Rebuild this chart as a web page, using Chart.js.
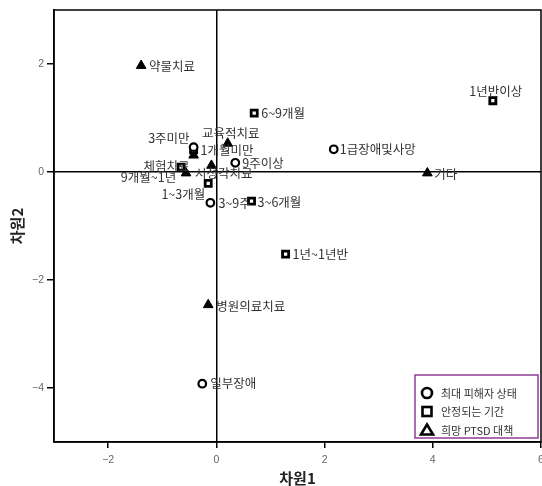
<!DOCTYPE html>
<html><head><meta charset="utf-8">
<script src="https://cdn.jsdelivr.net/npm/chart.js@4/dist/chart.umd.min.js"></script>
<style>html,body{margin:0;padding:0;background:#fff}#wrap{width:542px;height:486px}</style>
</head><body><div id="wrap"><canvas id="c" width="542" height="486"></canvas></div>
<script>
// ---- data ----
const seriesNames = ['최대 피해자 상태', '안정되는 기간', '희망 PTSD 대책'];

const circleLabels = ['3주미만', '3~9주', '9주이상', '1급장애및사망', '일부장애'];
const circleX = [-0.42, -0.11, 0.35, 2.17, -0.26];
const circleY = [0.46, -0.57, 0.17, 0.42, -3.92];

const squareLabels = ['1개월미만', '1~3개월', '3~6개월', '6~9개월', '9개월~1년', '1년~1년반', '1년반이상'];
const squareX = [-0.42, -0.15, 0.65, 0.70, -0.65, 1.28, 5.11];
const squareY = [0.41, -0.21, -0.54, 1.09, 0.09, -1.52, 1.32];

const triLabels = ['약물치료', '교육적치료', '체험치료', '', '시청각치료', '병원의료치료', '기타'];
const triX = [-1.39, 0.21, -0.42, -0.09, -0.56, -0.15, 3.90];
const triY = [1.97, 0.53, 0.31, 0.12, -0.02, -2.46, -0.02];

const xTicks = [-2, 0, 2, 4, 6];
const yTicks = [-4, -2, 0, 2];
const xTitle = '차원1';
const yTitle = '차원2';

// ---- label layout (pixel offsets from marker, alignment) ----
const circleLabelPos = [[-4, -9, 'right'], [8, 0, 'left'], [7, 0, 'left'], [6, 0, 'left'], [8, 0, 'left']];
const squareLabelPos = [[7, 0, 'left'], [-3, 11, 'right'], [6, 1, 'left'], [7, 0, 'left'], [-5, 10, 'right'], [7, 0, 'left'], [3, -9, 'center']];
const triLabelPos = [[8, 1, 'left'], [3, -10, 'center'], [-4, 11, 'right'], [7, 0, 'left'], [9, 0, 'left'], [8, 1, 'left'], [7, 1, 'left']];

function pts(xs, ys) { return xs.map((x, i) => ({x: x, y: ys[i]})); }

const labelSets = [
  {labels: circleLabels, pos: circleLabelPos},
  {labels: squareLabels, pos: squareLabelPos},
  {labels: triLabels, pos: triLabelPos}
];

const labelPlugin = {
  id: 'pointLabels',
  afterDatasetsDraw(chart) {
    const ctx = chart.ctx;
    ctx.save();
    ctx.font = '12.5px "Noto Sans CJK KR", "Noto Sans", sans-serif';
    ctx.fillStyle = '#333';
    ctx.textBaseline = 'middle';
    chart.data.datasets.forEach((ds, di) => {
      const meta = chart.getDatasetMeta(di);
      const set = labelSets[di];
      meta.data.forEach((el, i) => {
        const txt = set.labels[i];
        if (!txt) return;
        const p = set.pos[i];
        ctx.textAlign = p[2];
        ctx.fillText(txt, el.x + p[0], el.y + p[1]);
      });
    });
    ctx.restore();
  },
  afterDraw(chart) {
    const ctx = chart.ctx;
    const a = chart.chartArea;
    ctx.save();
    // frame
    ctx.strokeStyle = '#000';
    ctx.lineWidth = 1.5;
    ctx.strokeRect(a.left, a.top, a.right - a.left, a.bottom - a.top);
    // legend box
    const bx = 415, by = 375, bw = 123, bh = 63;
    ctx.fillStyle = '#fff';
    ctx.fillRect(bx, by, bw, bh);
    ctx.strokeStyle = '#8e3c97';
    ctx.lineWidth = 1.5;
    ctx.strokeRect(bx, by, bw, bh);
    const rows = [393, 411.5, 430];
    const mx = 427;
    ctx.strokeStyle = '#000';
    ctx.fillStyle = '#000';
    ctx.lineWidth = 2.6;
    ctx.beginPath(); ctx.arc(mx, rows[0], 5, 0, Math.PI * 2); ctx.stroke();
    ctx.strokeRect(mx - 4.5, rows[1] - 4.5, 9, 9);
    ctx.beginPath();
    ctx.moveTo(mx, rows[2] - 5.5); ctx.lineTo(mx + 6, rows[2] + 4.5); ctx.lineTo(mx - 6, rows[2] + 4.5); ctx.closePath();
    ctx.lineJoin = 'miter';
    ctx.stroke();
    ctx.font = '11px "Noto Sans CJK KR", "Noto Sans", sans-serif';
    ctx.fillStyle = '#333';
    ctx.textAlign = 'left';
    ctx.textBaseline = 'middle';
    seriesNames.forEach((n, i) => ctx.fillText(n, 441, rows[i] + 0.5));
    ctx.restore();
  }
};

const zeroColor = c => (c.tick && c.tick.value === 0) ? '#000' : 'rgba(0,0,0,0)';

new Chart(document.getElementById('c'), {
  type: 'scatter',
  data: {
    datasets: [
      {label: seriesNames[0], data: pts(circleX, circleY), pointStyle: 'circle', pointRadius: 3.8,
       borderWidth: 2.2, borderColor: '#000', backgroundColor: '#fff'},
      {label: seriesNames[1], data: pts(squareX, squareY), pointStyle: 'rect', pointRadius: 4.3,
       borderWidth: 2.8, borderColor: '#000', backgroundColor: '#fff'},
      {label: seriesNames[2], data: pts(triX, triY), pointStyle: 'triangle', pointRadius: 5.6,
       borderWidth: 1, borderColor: '#000', backgroundColor: '#000'}
    ]
  },
  options: {
    responsive: false,
    animation: false,
    devicePixelRatio: 1,
    layout: {autoPadding: false, padding: {top: 10, right: 1, bottom: 0, left: 0}},
    plugins: {legend: {display: false}, tooltip: {enabled: false}},
    scales: {
      x: {
        type: 'linear', min: -3, max: 6,
        afterBuildTicks: s => { s.ticks = xTicks.map(v => ({value: v})); },
        afterFit: s => { s.height = 44; s.paddingLeft = 0; s.paddingRight = 0; },
        ticks: {color: '#666', padding: 6, font: {family: '"Liberation Sans", Arial, sans-serif', size: 10.5},
                callback: v => String(v).replace('-', '\u2212'), maxRotation: 0},
        grid: {color: zeroColor, lineWidth: 1.5, tickColor: '#000', tickLength: 6, drawOnChartArea: true},
        border: {color: '#000', width: 1.5},
        title: {display: true, text: xTitle, color: '#222', padding: 0,
                font: {family: '"Noto Sans CJK KR", sans-serif', size: 15, weight: 'bold', lineHeight: 1}}
      },
      y: {
        type: 'linear', min: -5, max: 3,
        afterBuildTicks: s => { s.ticks = yTicks.map(v => ({value: v})); },
        afterFit: s => { s.width = 54; s.paddingTop = 0; s.paddingBottom = 0; },
        ticks: {color: '#666', padding: 3, font: {family: '"Liberation Sans", Arial, sans-serif', size: 10.5},
                callback: v => String(v).replace('-', '\u2212')},
        grid: {color: zeroColor, lineWidth: 1.5, tickColor: '#000', tickLength: 7, drawOnChartArea: true},
        border: {color: '#000', width: 1.5},
        title: {display: true, text: yTitle, color: '#222', padding: {top: 10, bottom: 0},
                font: {family: '"Noto Sans CJK KR", sans-serif', size: 15, weight: 'bold', lineHeight: 1}}
      }
    }
  },
  plugins: [labelPlugin]
});
</script>
</body></html>
